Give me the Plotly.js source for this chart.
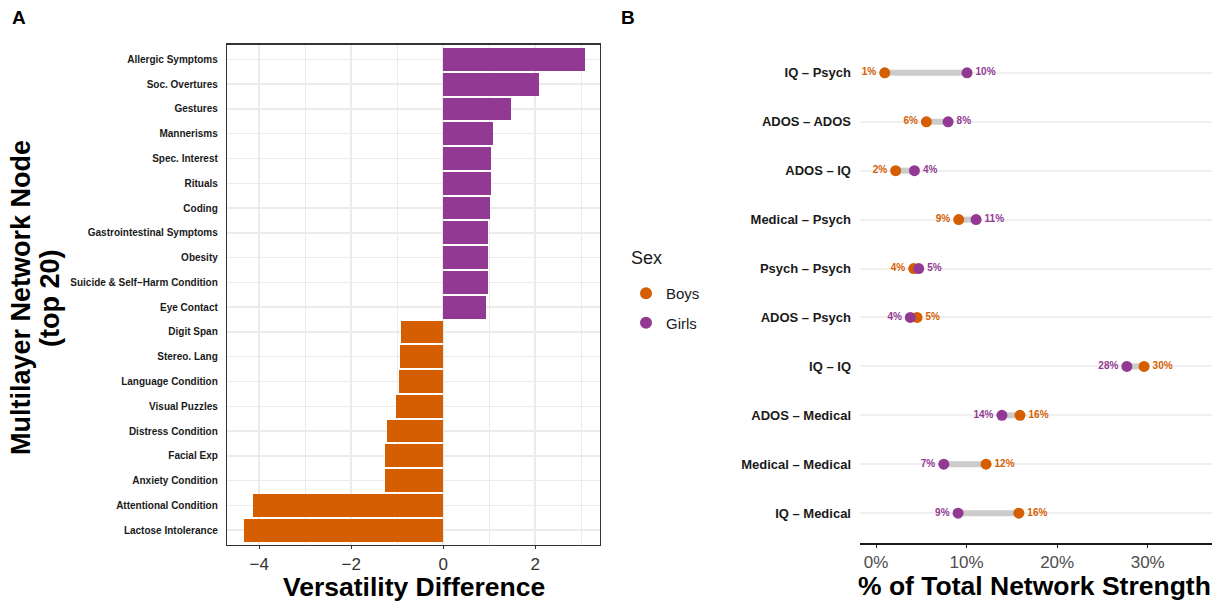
<!DOCTYPE html>
<html>
<head>
<meta charset="utf-8">
<script src="https://cdn.plot.ly/plotly-3.0.1.min.js"></script>
<style>html,body{margin:0;padding:0;background:#fff;}#chart{width:1223px;height:602px;}</style>
</head>
<body>
<div id="chart"></div>
<script>
// Panel A data (top to bottom)
const nodes = ["Allergic Symptoms","Soc. Overtures","Gestures","Mannerisms","Spec. Interest","Rituals","Coding","Gastrointestinal Symptoms","Obesity","Suicide & Self\u2212Harm Condition","Eye Contact","Digit Span","Stereo. Lang","Language Condition","Visual Puzzles","Distress Condition","Facial Exp","Anxiety Condition","Attentional Condition","Lactose Intolerance"];
const versatilityDiff = [3.09,2.09,1.48,1.09,1.05,1.05,1.02,0.98,0.98,0.98,0.93,-0.91,-0.93,-0.96,-1.02,-1.22,-1.26,-1.26,-4.13,-4.33];

// Panel B data (top to bottom)
const layerPairs = ["IQ \u2013 Psych","ADOS \u2013 ADOS","ADOS \u2013 IQ","Medical \u2013 Psych","Psych \u2013 Psych","ADOS \u2013 Psych","IQ \u2013 IQ","ADOS \u2013 Medical","Medical \u2013 Medical","IQ \u2013 Medical"];
const boysPct  = [0.96,5.56,2.17,9.13,4.16,4.53,29.6,15.9,12.15,15.77];
const girlsPct = [10.05,7.96,4.24,11.05,4.71,3.79,27.7,13.9,7.48,9.06];
const sexLabels = ["Boys","Girls"];

const ORANGE = "#D55E00", PURPLE = "#923A93";
const FONT = "Liberation Sans, Arial, Helvetica, sans-serif";
const W = 1223, H = 602;
const px = v => v / W, py = v => (H - v) / H;

const traces = [];
// Panel A bars
traces.push({
  type: "bar", orientation: "h", x: versatilityDiff, y: nodes,
  width: 0.92,
  marker: {color: versatilityDiff.map(v => v >= 0 ? PURPLE : ORANGE)},
  xaxis: "x", yaxis: "y", showlegend: false, hoverinfo: "x+y"
});

// Panel B segments
const segX = [], segY = [];
layerPairs.forEach((c, i) => { segX.push(boysPct[i], girlsPct[i], null); segY.push(c, c, null); });
traces.push({
  type: "scatter", mode: "lines", x: segX, y: segY,
  line: {color: "#cccccc", width: 6}, xaxis: "x2", yaxis: "y2",
  showlegend: false, hoverinfo: "skip"
});

function pos(a, b) { return a < b ? "middle left" : "middle right"; }
const series = [
  {name: sexLabels[0], vals: boysPct, other: girlsPct, color: ORANGE},
  {name: sexLabels[1], vals: girlsPct, other: boysPct, color: PURPLE}
];
series.forEach((s, k) => {
  traces.push({
    type: "scatter", mode: "markers", name: s.name, x: s.vals, y: layerPairs,
    marker: {color: s.color, size: 11}, xaxis: "x2", yaxis: "y2", showlegend: true,
    legendgroup: "g" + k
  });
  traces.push({
    type: "scatter", mode: "markers+text", x: s.vals, y: layerPairs,
    marker: {color: "rgba(0,0,0,0)", size: 12},
    text: s.vals.map(v => Math.round(v) + "%"),
    textposition: s.vals.map((v, i) => pos(v, s.other[i])),
    textfont: {family: FONT, size: 10, color: s.color, weight: "bold"},
    xaxis: "x2", yaxis: "y2", showlegend: false, hoverinfo: "skip"
  });
});

const layout = {
  width: W, height: H,
  margin: {l: 0, r: 0, t: 0, b: 0},
  paper_bgcolor: "#fff", plot_bgcolor: "#fff",
  font: {family: FONT, color: "#1a1a1a"},
  bargap: 0,
  xaxis: {
    domain: [px(227), px(600)], anchor: "y",
    range: [-4.7, 3.41], tickvals: [-4, -2, 0, 2],
    showgrid: true, gridcolor: "#ebebeb", gridwidth: 1.5,
    minor: {dtick: 1, tick0: 0, showgrid: true, gridcolor: "#ebebeb", gridwidth: 1},
    zeroline: false, showline: true, mirror: true, linecolor: "#333", linewidth: 1.2,
    ticks: "outside", ticklen: 3, tickcolor: "#333",
    tickfont: {size: 17, color: "#333"}
  },
  yaxis: {
    domain: [py(545), py(44.5)], anchor: "x",
    type: "category", categoryorder: "array", categoryarray: nodes.slice().reverse(),
    range: [-0.6, 19.6],
    showgrid: true, gridcolor: "#ebebeb", gridwidth: 1.5,
    zeroline: false, showline: true, mirror: true, linecolor: "#333", linewidth: 1.2,
    ticks: "", ticklabelstandoff: 6,
    tickfont: {size: 10, color: "#1a1a1a", weight: "bold"}
  },
  xaxis2: {
    domain: [px(860), px(1212)], anchor: "y2",
    range: [-1.77, 37.1], tickvals: [0, 10, 20, 30], ticktext: ["0%","10%","20%","30%"],
    showgrid: false, zeroline: false,
    showline: true, linecolor: "#1a1a1a", linewidth: 1.5,
    ticks: "outside", ticklen: 3, tickcolor: "#1a1a1a",
    tickfont: {size: 17, color: "#4d4d4d"}
  },
  yaxis2: {
    domain: [py(543), py(43)], anchor: "x2",
    type: "category", categoryorder: "array", categoryarray: layerPairs.slice().reverse(),
    range: [-0.61, 9.61],
    showgrid: true, gridcolor: "#f0f0f0", gridwidth: 2,
    zeroline: false, showline: false, ticks: "", ticklabelstandoff: 8,
    tickfont: {size: 13, color: "#1a1a1a", weight: "bold"}
  },
  showlegend: true,
  legend: {
    x: px(626), y: py(277), xanchor: "left", yanchor: "top",
    font: {size: 15, color: "#1a1a1a"},
    itemsizing: "constant", tracegroupgap: 7,
    bgcolor: "rgba(0,0,0,0)"
  },
  annotations: [
    {text: "Sex", x: px(629), y: py(258), xref: "paper", yref: "paper", xanchor: "left", yanchor: "middle", showarrow: false, font: {size: 18, color: "#1a1a1a"}},
    {text: "A", x: px(10), y: py(18), xref: "paper", yref: "paper", xanchor: "left", yanchor: "middle", showarrow: false, font: {size: 19, weight: "bold", color: "#000"}},
    {text: "B", x: px(619), y: py(18), xref: "paper", yref: "paper", xanchor: "left", yanchor: "middle", showarrow: false, font: {size: 19, weight: "bold", color: "#000"}},
    {text: "Versatility Difference", x: px(414), y: py(587), xref: "paper", yref: "paper", xanchor: "center", yanchor: "middle", showarrow: false, font: {size: 26.5, weight: "bold", color: "#000"}},
    {text: "% of Total Network Strength", x: px(1034), y: py(586), xref: "paper", yref: "paper", xanchor: "center", yanchor: "middle", showarrow: false, font: {size: 26.5, weight: "bold", color: "#000"}},
    {text: "Multilayer Network Node", x: px(21), y: py(298), xref: "paper", yref: "paper", xanchor: "center", yanchor: "middle", textangle: -90, showarrow: false, font: {size: 27, weight: "bold", color: "#000"}},
    {text: "(top 20)", x: px(50), y: py(298), xref: "paper", yref: "paper", xanchor: "center", yanchor: "middle", textangle: -90, showarrow: false, font: {size: 27, weight: "bold", color: "#000"}}
  ]
};

Plotly.newPlot("chart", traces, layout, {displayModeBar: false, staticPlot: true});
</script>
</body>
</html>
